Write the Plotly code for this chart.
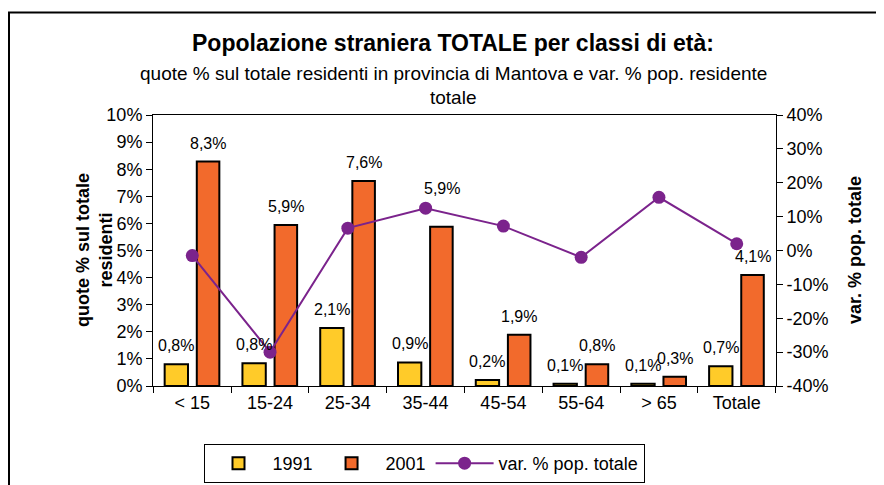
import plotly.graph_objects as go

categories = ["< 15", "15-24", "25-34", "35-44", "45-54", "55-64", "> 65", "Totale"]
quota_1991 = [0.8, 0.84, 2.14, 0.87, 0.22, 0.08, 0.08, 0.73]
quota_2001 = [8.28, 5.94, 7.56, 5.88, 1.89, 0.8, 0.34, 4.1]
var_pop = [-1.5, -30, 6.6, 12.5, 7.2, -2, 15.7, 2]
right_ticks = [-40, -30, -20, -10, 0, 10, 20, 30, 40]

FONT = "Liberation Sans, Arial, sans-serif"
YELLOW = "#FFCB29"
ORANGE = "#F26A2C"
PURPLE = "#7B238C"

# the page places the figure 8px from the window's top-left corner
OFF = 8
W, H = 884 - OFF, 485 - OFF
L, R, T, B = 153 - OFF, 108, 115 - OFF, 99
PW, PH = W - L - R, H - T - B


def px_x(px):
    """window pixel x -> paper x"""
    return (px - OFF - L) / PW


def px_y(py):
    """window pixel y -> paper y"""
    return (H - B - (py - OFF)) / PH


def pct(v):
    return f"{v:.1f}".replace(".", ",") + "%"


fig = go.Figure()
fig.add_trace(go.Bar(
    x=categories, y=quota_1991, name="1991",
    offset=-0.355, width=0.30,
    marker=dict(color=YELLOW, line=dict(color="black", width=2)),
))
fig.add_trace(go.Bar(
    x=categories, y=quota_2001, name="2001",
    offset=0.058, width=0.29,
    marker=dict(color=ORANGE, line=dict(color="black", width=2)),
))
fig.add_trace(go.Scatter(
    x=categories, y=var_pop, name="var. % pop. totale", yaxis="y2",
    mode="lines+markers",
    line=dict(color=PURPLE, width=2),
    marker=dict(color=PURPLE, size=13),
))

annotations = []
# data labels
nudges = {("2001", 3): 20}
for series, vals, off in (("1991", quota_1991, -0.205), ("2001", quota_2001, 0.205)):
    for i, v in enumerate(vals):
        annotations.append(dict(
            x=i + off, y=v, xref="x", yref="y", text=pct(v), showarrow=False,
            yanchor="bottom", yshift=8 + nudges.get((series, i), 0),
            font=dict(family=FONT, size=16, color="black"),
        ))

# titles
annotations += [
    dict(x=px_x(453), y=px_y(43), xref="paper", yref="paper",
         text="<b>Popolazione straniera TOTALE per classi di età:</b>",
         showarrow=False, yanchor="middle",
         font=dict(family=FONT, size=23, color="black")),
    dict(x=px_x(453), y=px_y(73), xref="paper", yref="paper",
         text="quote % sul totale residenti in provincia di Mantova e var. % pop. residente",
         showarrow=False, yanchor="middle",
         font=dict(family=FONT, size=19, color="black")),
    dict(x=px_x(453), y=px_y(97), xref="paper", yref="paper",
         text="totale", showarrow=False, yanchor="middle",
         font=dict(family=FONT, size=19, color="black")),
    dict(x=px_x(94), y=px_y(250), xref="paper", yref="paper",
         text="<b>quote % sul totale<br>residenti</b>", showarrow=False,
         textangle=-90, xanchor="center", yanchor="middle",
         font=dict(family=FONT, size=18, color="black")),
    dict(x=px_x(855), y=px_y(250), xref="paper", yref="paper",
         text="<b>var. % pop. totale</b>", showarrow=False,
         textangle=-90, xanchor="center", yanchor="middle",
         font=dict(family=FONT, size=18, color="black")),
]

fig.update_layout(
    width=W, height=H,
    margin=dict(l=L, r=R, t=T, b=B, pad=0, autoexpand=False),
    paper_bgcolor="white", plot_bgcolor="white",
    font=dict(family=FONT, size=18, color="black"),
    barmode="overlay",
    showlegend=True,
    legend=dict(
        orientation="h", x=px_x(424), xanchor="center", y=px_y(444), yanchor="top",
        bordercolor="black", borderwidth=1, font=dict(size=18),
        itemwidth=58, tracegroupgap=0,
    ),
    xaxis=dict(
        type="category", showline=True, linecolor="black", linewidth=1,
        mirror=True, ticks="outside", tickson="boundaries", ticklen=6,
        tickcolor="black", showgrid=False, tickfont=dict(size=18), automargin=False,
    ),
    yaxis=dict(
        range=[0, 10], dtick=1, ticksuffix="%", showline=True, linecolor="black",
        linewidth=1, ticks="outside", ticklen=6, tickcolor="black",
        showgrid=False, zeroline=False, tickfont=dict(size=18), automargin=False,
    ),
    yaxis2=dict(
        range=[-40, 40], tickvals=right_ticks,
        ticktext=[f"{v}%" for v in right_ticks],
        overlaying="y", side="right",
        showline=True, linecolor="black", linewidth=1, ticks="outside", ticklen=6,
        tickcolor="black", showgrid=False, zeroline=False, tickfont=dict(size=18),
        automargin=False,
    ),
    annotations=annotations,
    shapes=[dict(
        type="rect", xref="paper", yref="paper",
        x0=px_x(9), x1=px_x(900), y0=px_y(500), y1=px_y(12.5),
        line=dict(color="black", width=2), fillcolor="rgba(0,0,0,0)", layer="below",
    )],
)

fig.write_html("out.html")
